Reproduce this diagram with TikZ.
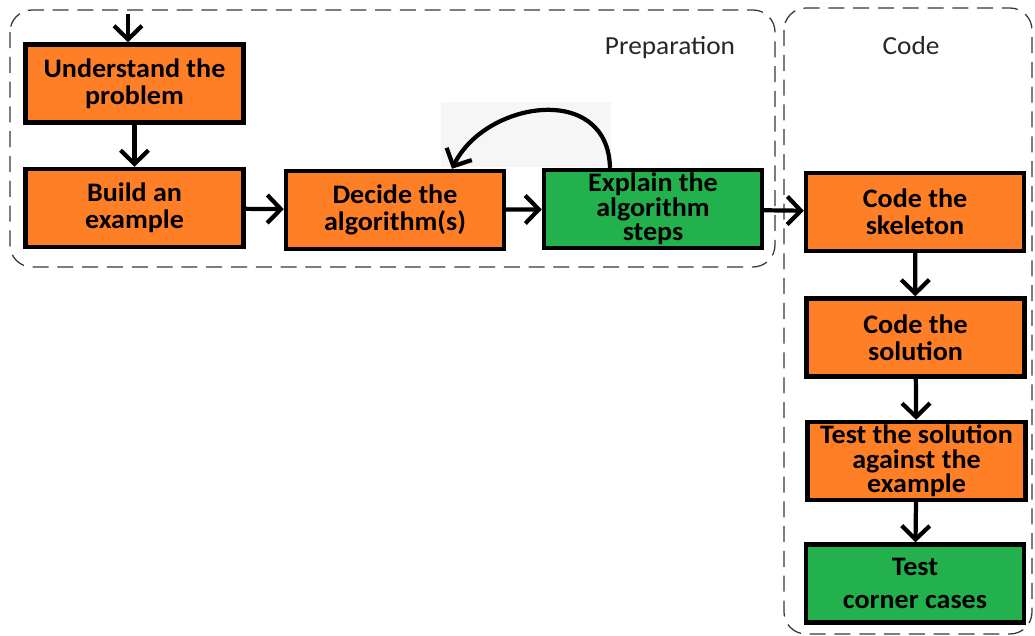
\documentclass[tikz,border=0pt]{standalone}
\usepackage{fontspec}
\setmainfont{Carlito}[FakeStretch=1.05]
\usetikzlibrary{arrows.meta,calc}

\definecolor{stepOrange}{RGB}{255,127,39}
\definecolor{stepGreen}{RGB}{34,177,76}
\definecolor{frameGray}{RGB}{55,55,55}
\definecolor{loopBack}{RGB}{246,246,246}

\tikzset{
  stepbox/.style={draw=black, line width=3.1pt, minimum width=5.45cm,
    minimum height=1.95cm, align=center, inner sep=0pt,
    font=\bfseries\fontsize{19}{19}\selectfont},
  orangebox/.style={stepbox, fill=stepOrange},
  greenbox/.style={stepbox, fill=stepGreen},
  flow/.style={line width=3pt, -{Straight Barb[length=0.34cm,width=0.7cm]}},
  phase/.style={draw=frameGray, line width=0.9pt,
    dash pattern=on 0.4cm off 0.22cm, rounded corners=0.55cm},
  phaselabel/.style={anchor=base, inner sep=0pt, text=black!85,
    font=\fontsize{18.5}{20}\selectfont}
}

\begin{document}
\begin{tikzpicture}[x=0.025cm, y=-0.025cm]
  \useasboundingbox (0,0) rectangle (1035,636);

  % phase frames
  \draw[phase] (10,10) rectangle (775,267);
  \draw[phase] (784,8) rectangle (1032,634);
  \node[phaselabel] (prep) at (670,55) {Preparation};
  \node[phaselabel] (code) at (911,55) {Code};

  % backdrop of the loop arrow
  \fill[loopBack] (441,102) rectangle (611,167);

  % preparation steps
  \node[orangebox] (und) at (134.5,83.5) {Understand the\\problem};
  \node[orangebox] (ex)  at (134.5,208)  {Build an\\example};
  \node[orangebox] (alg) at (395,210)    {Decide the\\algorithm(s)};
  \node[greenbox, font=\bfseries\fontsize{19}{17.5}\selectfont]
                   (expl) at (653,209)   {Explain the\\algorithm\\steps};

  % coding steps
  \node[orangebox] (skel) at (915,212) {Code the\\skeleton};
  \node[orangebox] (sol)  at (915.5,337.5) {Code the\\solution};
  \node[orangebox, font=\bfseries\fontsize{19}{17.5}\selectfont]
                   (test) at (916.5,461) {Test the solution\\against the\\example};
  \node[greenbox, font=\bfseries\fontsize{19}{23}\selectfont]
                   (corner) at (915,583.5) {Test\\corner cases};

  % connectors
  \coordinate (start) at (128,14);
  \draw[flow] (start) -- (start |- und.north);
  \draw[flow] (und) -- (ex);
  \draw[flow] (ex) -- (alg);
  \draw[flow] (alg) -- (expl);
  \draw[flow] (expl) -- (skel);
  \draw[flow] (skel) -- (sol);
  \draw[flow] (sol) -- (test);
  \draw[flow] (test) -- (corner);

  % loop back from the explanation to the choice of algorithm
  \coordinate (loopA) at ([xshift=-1.075cm]expl.north);
  \coordinate (loopB) at ([xshift=1.425cm]alg.north);
  \draw[flow] (loopA) .. controls ($(loopA)+(-2,-86)$) and ($(loopB)+(33,-68)$) .. (loopB);
\end{tikzpicture}
\end{document}
